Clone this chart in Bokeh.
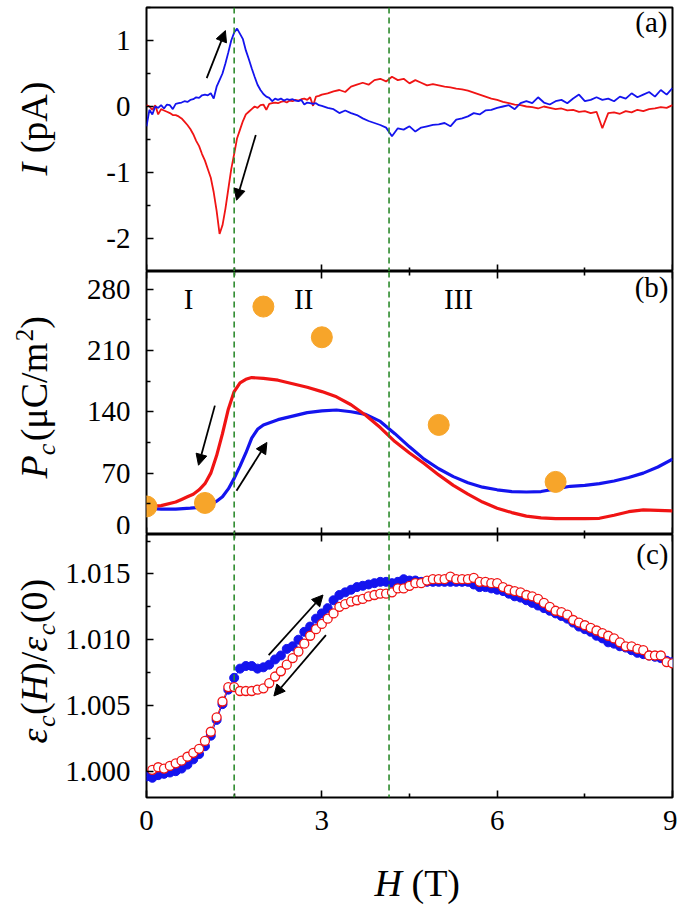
import numpy as np
from math import pi
from bokeh.plotting import figure
from bokeh.layouts import column, row
from bokeh.models import LinearAxis, FixedTicker, Range1d, Span, Label, Arrow, NormalHead
from bokeh.core.properties import value
from bokeh.embed import file_html
from bokeh.resources import INLINE

FONT = "Liberation Serif"
RED = "#F01414"
BLUE = "#1414EE"
ORANGE = "#F7A52A"
GREEN = "#2E8B2E"

# ---------------- data ----------------
X_TICKS = [0, 3, 6, 9]
X_MINOR = [1.5, 4.5, 7.5]
TRANSITIONS = [1.5, 4.15]

# (a) pyroelectric current, pA
H_a = np.round(np.concatenate([np.arange(0, 3.0001, 0.05), np.arange(3.1, 9.0001, 0.1)]), 2)
I_red = [0.02, 0.00, -0.05, 0.02, -0.12, -0.04, -0.06, -0.08, -0.10, -0.13,
         -0.13, -0.15, -0.18, -0.23, -0.28, -0.34, -0.42, -0.52, -0.60, -0.72,
         -0.82, -0.95, -1.08, -1.30, -1.58, -1.93, -1.80, -1.55, -1.25, -0.95,
         -0.72, -0.48, -0.35, -0.22, -0.12, -0.08, -0.04, 0.00, -0.02, 0.02,
         0.03, -0.05, 0.04, 0.05, 0.06, 0.05, 0.07, 0.08, 0.06, 0.09,
         0.08, 0.10, 0.09, 0.11, 0.12, 0.10, 0.14, 0.01, 0.15, 0.16, 0.18,
         0.20, 0.23, 0.25, 0.22, 0.30, 0.33, 0.36, 0.33, 0.40, 0.42,
         0.38, 0.45, 0.40, 0.42, 0.35, 0.40, 0.36, 0.32, 0.34, 0.32,
         0.30, 0.29, 0.27, 0.26, 0.24, 0.21, 0.18, 0.15, 0.12, 0.10,
         0.07, 0.05, 0.03, 0.02, 0.00, -0.01, -0.03, 0.00, -0.02, -0.04,
         -0.03, -0.06, -0.05, -0.08, -0.07, -0.10, -0.08, -0.33, -0.10, -0.09,
         -0.11, -0.07, -0.09, -0.05, -0.07, -0.04, -0.03, -0.01, -0.02, 0.02]
I_blue = [-0.30, -0.05, -0.12, 0.00, -0.02, 0.02, -0.03, 0.03, 0.02, -0.04,
          0.04, 0.05, 0.06, 0.08, 0.07, 0.10, 0.11, 0.14, 0.13, 0.17,
          0.18, 0.17, 0.20, 0.12, 0.30, 0.40, 0.50, 0.65, 0.82, 1.00,
          1.12, 1.18, 1.10, 1.02, 0.85, 0.72, 0.58, 0.45, 0.33, 0.25,
          0.19, 0.15, 0.13, 0.08, 0.12, 0.10, 0.12, 0.09, 0.11, 0.10,
          0.11, 0.09, 0.08, 0.10, 0.03, 0.06, 0.05, 0.04, 0.05, 0.02, 0.01,
          -0.02, -0.04, -0.10, -0.06, -0.10, -0.13, -0.18, -0.22, -0.25, -0.28,
          -0.32, -0.45, -0.33, -0.35, -0.30, -0.38, -0.32, -0.30, -0.28, -0.27,
          -0.25, -0.30, -0.20, -0.18, -0.15, -0.10, -0.12, -0.06, -0.05, -0.02,
          0.00, 0.02, -0.04, 0.05, 0.08, 0.05, 0.14, 0.06, 0.03, 0.08,
          0.10, 0.05, 0.12, 0.18, 0.08, 0.10, 0.14, 0.10, 0.12, 0.08,
          0.15, 0.12, 0.20, 0.14, 0.18, 0.22, 0.15, 0.25, 0.18, 0.28]
I_TICKS = [-2, -1, 0, 1]
I_MINOR = [-2.5, -1.5, -0.5, 0.5, 1.5]

# (b) polarization, uC/m^2
H_b_red = [0, 0.25, 0.5, 0.6, 0.7, 0.8, 0.9, 1.0, 1.1, 1.2, 1.3, 1.4, 1.5, 1.6, 1.7, 1.8,
           2.0, 2.25, 2.5, 2.75, 3.0, 3.25, 3.5, 3.75, 4.0, 4.25, 4.5, 4.75, 5.0, 5.25,
           5.5, 5.75, 6.0, 6.25, 6.5, 6.75, 7.0, 7.25, 7.5, 7.75, 8.0, 8.25, 8.5, 8.75, 9.0]
P_red = [32, 33, 37, 40, 43, 46, 51, 58, 70, 90, 115, 143, 163, 173, 177, 179,
         178, 176, 172, 168, 163, 157, 148, 136, 122, 106, 93, 81, 68, 56,
         46, 37, 30, 25, 21, 19, 18, 18, 18, 18.5, 22, 26, 28, 27.5, 27]
H_b_blue = [0, 0.25, 0.5, 0.75, 0.9, 1.0, 1.1, 1.2, 1.3, 1.4, 1.5, 1.6, 1.7, 1.8, 1.9,
            2.0, 2.25, 2.5, 2.75, 3.0, 3.25, 3.5, 3.75, 4.0, 4.25, 4.5, 4.75, 5.0, 5.25,
            5.5, 5.75, 6.0, 6.25, 6.5, 6.75, 7.0, 7.25, 7.5, 7.75, 8.0, 8.25, 8.5, 8.75, 9.0]
P_blue = [30, 29, 29, 30, 31, 32, 34, 38, 43, 52, 64, 78, 93, 110, 120,
          125, 131, 135, 139, 141, 142, 140, 137, 129, 115, 100, 86, 75, 66,
          59, 54, 51, 49, 48.5, 49, 52, 55, 56, 58, 61, 65, 70, 77, 86]
H_dots = [0, 1, 2, 3, 5, 7]
P_dots = [32, 36, 260, 225, 125, 60]
P_TICKS = [0, 70, 140, 210, 280]
P_MINOR = [35, 105, 175, 245]
REGIONS = ["I", "II", "III"]
REGION_H = [0.72, 2.69, 5.34]

# (c) dielectric constant
H_c_blue = np.round(np.arange(0, 9.0001, 0.1), 1)
E_blue = [0.9996, 0.9995, 0.9997, 0.9998, 0.9999, 1.0000, 1.0002, 1.0005, 1.0009, 1.0013,
          1.0019, 1.0027, 1.0039, 1.0051, 1.0062, 1.0071, 1.0078, 1.0080, 1.0080, 1.0078,
          1.0079, 1.0081, 1.0085, 1.0088, 1.0093, 1.0095, 1.0100, 1.0106, 1.0110, 1.0116,
          1.0120, 1.0124, 1.0130, 1.0134, 1.0136, 1.0138, 1.0140, 1.0141, 1.0142, 1.0143,
          1.0144, 1.0144, 1.0143, 1.0144, 1.0146, 1.0145, 1.0145, 1.0144, 1.0144, 1.0144,
          1.0144, 1.0144, 1.0144, 1.0144, 1.0144, 1.0144, 1.0142, 1.0140, 1.0140, 1.0139,
          1.0138, 1.0137, 1.0135, 1.0133, 1.0132, 1.0130, 1.0128, 1.0126, 1.0124, 1.0122,
          1.0120, 1.0118, 1.0116, 1.0113, 1.0110, 1.0108, 1.0106, 1.0103, 1.0101, 1.0098,
          1.0097, 1.0095, 1.0094, 1.0092, 1.0090, 1.0089, 1.0088, 1.0087, 1.0086, 1.0084,
          1.0083]
H_c_red = np.round(np.arange(0.1, 9.0001, 0.1), 1)
E_red = [1.0001, 1.0003, 1.0002, 1.0004, 1.0006, 1.0008, 1.0011, 1.0014, 1.0017,
         1.0023, 1.0030, 1.0041, 1.0053, 1.0064, 1.0064, 1.0061, 1.0061, 1.0061, 1.0062,
         1.0063, 1.0067, 1.0072, 1.0076, 1.0081, 1.0086, 1.0091, 1.0097, 1.0103, 1.0108,
         1.0112, 1.0116, 1.0120, 1.0125, 1.0127, 1.0129, 1.0130, 1.0131, 1.0133, 1.0134,
         1.0135, 1.0135, 1.0136, 1.0139, 1.0139, 1.0141, 1.0143, 1.0143, 1.0145, 1.0146,
         1.0146, 1.0146, 1.0148, 1.0146, 1.0146, 1.0146, 1.0147, 1.0144, 1.0144, 1.0143,
         1.0143, 1.0140, 1.0138, 1.0137, 1.0136, 1.0134, 1.0133, 1.0131, 1.0128, 1.0125,
         1.0122, 1.0121, 1.0119, 1.0115, 1.0113, 1.0111, 1.0109, 1.0107, 1.0105, 1.0103,
         1.0101, 1.0098, 1.0095, 1.0095, 1.0093, 1.0092, 1.0088, 1.0088, 1.0088, 1.0083,
         1.0082]
E_TICKS = [1.000, 1.005, 1.010, 1.015]
E_MINOR = [0.9975, 1.0025, 1.0075, 1.0125, 1.0175]

# ---------------- layout helpers (page pixel geometry) ----------------
STRIP_W = 60
FRAME_L = 146
FRAME_W = 526
RIGHT_B = 5
TOTAL_H = 907
C_BOTTOM = 40
BASE_K = 0.34          # renderer draws an 'alphabetic' anchor ~0.34 em low
PANELS = {
    "a": (7, 271, -2.5, 1.5),
    "b": (271, 534, 0, 300),
    "c": (534, 797, 0.998, 1.018),
}


def px2x(px):
    return (px - FRAME_L) * 9.0 / FRAME_W


def py2y(key, py):
    top, bot, y0, y1 = PANELS[key]
    return y1 - (py - top) / (bot - top) * (y1 - y0)


def make_fig(key, top_border, bottom_border):
    top, bot, y0, y1 = PANELS[key]
    p = figure(frame_width=FRAME_W, frame_height=bot - top,
               x_range=Range1d(0, 9), y_range=Range1d(y0, y1),
               output_backend="svg", toolbar_location=None, title=None,
               x_axis_location=None, y_axis_location=None,
               min_border_left=FRAME_L - STRIP_W, min_border_right=RIGHT_B,
               min_border_top=top_border, min_border_bottom=bottom_border)
    p.grid.visible = False
    p.outline_line_color = "black"
    p.outline_line_width = 2
    p.outline_line_alpha = 1
    p.background_fill_color = "white"
    p.border_fill_color = "white"
    return p


def style_axis(ax, labels=True, size="29px", standoff=16):
    ax.axis_line_color = None
    ax.major_tick_in = 7
    ax.major_tick_out = 0
    ax.minor_tick_in = 4
    ax.minor_tick_out = 0
    ax.major_tick_line_width = 1.6
    ax.minor_tick_line_width = 1.6
    ax.major_tick_line_color = "black"
    ax.minor_tick_line_color = "black"
    ax.major_label_text_font = FONT
    ax.major_label_text_color = "black"
    if labels:
        ax.major_label_text_font_size = size
        ax.major_label_standoff = standoff
    else:
        ax.major_label_text_font_size = "0px"
        ax.major_label_text_alpha = 0
        ax.major_label_standoff = 0


def add_left(p, ticks, minor, labels):
    ax = LinearAxis(ticker=FixedTicker(ticks=ticks, minor_ticks=minor),
                    major_label_overrides={float(t): l for t, l in zip(ticks, labels)})
    style_axis(ax)
    p.add_layout(ax, "left")


def add_x_fixed(p, side, loc):
    ax = LinearAxis(ticker=FixedTicker(ticks=X_TICKS, minor_ticks=X_MINOR), fixed_location=loc)
    style_axis(ax, labels=False)
    p.add_layout(ax, side)


def add_spans(p):
    for t in TRANSITIONS:
        p.add_layout(Span(location=t, dimension="height", line_color=GREEN,
                          line_dash="6 4", line_width=1.6))


def add_arrow(p, x0, y0, x1, y1):
    p.add_layout(Arrow(end=NormalHead(size=11, fill_color="black", line_color="black", line_width=1),
                       x_start=x0, y_start=y0, x_end=x1, y_end=y1,
                       line_color="black", line_width=1.8))


def label(p, key, px, py_base, s, size=29, align="left"):
    # py_base: wanted page y of the baseline
    p.add_layout(Label(x=px2x(px), y=py2y(key, py_base - BASE_K * size), text=s,
                       text_font=FONT, text_font_size=f"{size}px",
                       text_align=align, text_baseline="alphabetic", text_color="black"))


def glyph_text(f, x, y, s, size, style, angle=0.0):
    f.text(x=[x], y=[y], text=[s], angle=angle, text_font=value(FONT),
           text_font_size=value(f"{size}px"), text_font_style=style,
           text_align="left", text_baseline="alphabetic", text_color="black")


def vtitle(f, xb, ystart, pieces):
    # xb: wanted page x of the (rotated) baseline; ystart: page y where the text starts
    y = ystart
    for s, size, style, shift, adv in pieces:
        glyph_text(f, xb + shift - BASE_K * size, y, s, size, style, angle=pi / 2)
        y -= adv


# ---------------- panel (a) ----------------
pa = make_fig("a", PANELS["a"][0], 0)
add_left(pa, I_TICKS, I_MINOR, ["-2", "-1", "0", "1"])
add_x_fixed(pa, "below", PANELS["a"][2])
add_spans(pa)
pa.line(H_a, I_red, line_color=RED, line_width=1.8)
pa.line(H_a, I_blue, line_color=BLUE, line_width=1.8)
add_arrow(pa, 1.03, 0.43, 1.35, 1.15)
add_arrow(pa, 1.87, -0.43, 1.54, -1.42)
label(pa, "a", 667, 31, "(a)", align="right")

# ---------------- panel (b) ----------------
pb = make_fig("b", 0, 0)
add_left(pb, P_TICKS, P_MINOR, [str(t) for t in P_TICKS])
add_x_fixed(pb, "above", PANELS["b"][3])
add_x_fixed(pb, "below", PANELS["b"][2])
add_spans(pb)
pb.line(H_b_blue, P_blue, line_color=BLUE, line_width=3.2)
pb.line(H_b_red, P_red, line_color=RED, line_width=3.2)
pb.scatter(H_dots, P_dots, marker="circle", size=21, fill_color=ORANGE, line_color=ORANGE)
add_arrow(pb, 1.17, 147, 0.89, 79)
add_arrow(pb, 1.54, 50, 2.06, 105)
for h, s in zip(REGION_H, REGIONS):
    label(pb, "b", FRAME_L + h * FRAME_W / 9.0, 308, s, align="center")
label(pb, "b", 668, 296, "(b)", align="right")

# ---------------- panel (c) ----------------
pc = make_fig("c", 0, C_BOTTOM)
add_left(pc, E_TICKS, E_MINOR, ["1.000", "1.005", "1.010", "1.015"])
add_x_fixed(pc, "above", PANELS["c"][3])
xb = LinearAxis(ticker=FixedTicker(ticks=X_TICKS, minor_ticks=X_MINOR),
                major_label_overrides={float(t): str(t) for t in X_TICKS})
style_axis(xb, standoff=13)
pc.add_layout(xb, "below")
add_spans(pc)
pc.line(H_c_blue, E_blue, line_color=BLUE, line_width=1)
pc.scatter(H_c_blue, E_blue, marker="circle", size=9, fill_color=BLUE, line_color=BLUE)
pc.line(H_c_red, E_red, line_color=RED, line_width=1)
pc.scatter(H_c_red, E_red, marker="circle", size=9, fill_color="white", line_color=RED, line_width=1.3)
add_arrow(pc, 2.09, 1.00882, 3.02, 1.0134)
add_arrow(pc, 3.07, 1.01035, 2.18, 1.00572)
label(pc, "c", 668, 563, "(c)", align="right")

# ---------------- left strip: vertical axis titles (page pixel coords) ----------------
left = figure(width=STRIP_W, height=TOTAL_H, x_range=Range1d(0, STRIP_W),
              y_range=Range1d(TOTAL_H, 0), output_backend="svg", toolbar_location=None,
              title=None, x_axis_location=None, y_axis_location=None, min_border=0)
left.grid.visible = False
left.outline_line_color = None
vtitle(left, 46, 175, [("I", 38, "italic", 0, 22.2), ("(pA)", 38, "normal", 0, 0)])
vtitle(left, 46, 478, [("P", 38, "italic", 0, 23.2), ("c", 26, "italic", 9, 14),
                       ("(\u03bcC/m", 38, "normal", 0, 100), ("2", 25, "normal", -14, 12.5),
                       (")", 38, "normal", 0, 0)])
vtitle(left, 46, 743, [("\u03b5", 38, "italic", 0, 16.5), ("c", 26, "italic", 9, 12),
                       ("(", 38, "normal", 0, 12.7), ("H", 38, "italic", 0, 27.4),
                       (")/", 38, "normal", 0, 23.2), ("\u03b5", 38, "italic", 0, 16.5),
                       ("c", 26, "italic", 9, 12), ("(0)", 38, "normal", 0, 0)])

# ---------------- bottom strip: x axis title (frame aligned with the panels) ----------------
c_bottom_page = PANELS["c"][1] + C_BOTTOM
strip_h = TOTAL_H - c_bottom_page
bottom = figure(frame_width=FRAME_W, frame_height=strip_h, x_range=Range1d(0, 9),
                y_range=Range1d(TOTAL_H, c_bottom_page), output_backend="svg",
                toolbar_location=None, title=None, x_axis_location=None, y_axis_location=None,
                min_border_left=FRAME_L - STRIP_W, min_border_right=RIGHT_B,
                min_border_top=0, min_border_bottom=0)
bottom.grid.visible = False
bottom.outline_line_color = None
glyph_text(bottom, px2x(374), 895 - BASE_K * 38, "H", 38, "italic")
glyph_text(bottom, px2x(374 + 37), 895 - BASE_K * 38, "(T)", 38, "normal")

layout = row(left, column(pa, pb, pc, bottom, spacing=0), spacing=0)
open("out.html", "w").write(file_html(layout, INLINE))
